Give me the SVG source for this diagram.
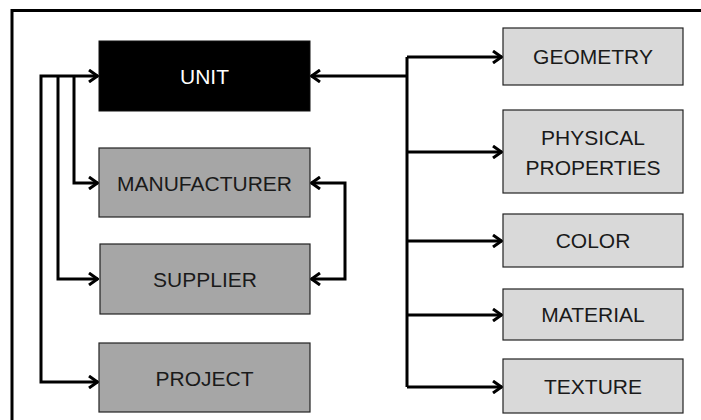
<svg xmlns="http://www.w3.org/2000/svg" width="701" height="420" viewBox="0 0 701 420">
<defs>
<style>
.frame{fill:none;stroke:#000;stroke-width:3}
.dark{fill:#000;stroke:#111;stroke-width:1}
.mid{fill:#a6a6a6;stroke:#222;stroke-width:1.2}
.light{fill:#d9d9d9;stroke:#222;stroke-width:1.2}
.t{font-family:"Liberation Sans",Arial,sans-serif;font-size:21px;text-anchor:middle;fill:#1a1a1a}
.tw{fill:#fff}
.c{fill:none;stroke:#000;stroke-width:3;stroke-linejoin:miter}
</style>
<marker id="ah" viewBox="0 0 12 14" refX="11" refY="7" markerWidth="12" markerHeight="14" markerUnits="userSpaceOnUse" orient="auto-start-reverse">
<path d="M2,1 L10.5,7 L2,13" fill="none" stroke="#000" stroke-width="3"/>
</marker>
</defs>
<rect width="701" height="420" fill="#fff"/>
<path class="frame" d="M12,422 V10.5 H703"/>
<g id="connectors">
<path class="c" d="M98,76 H41 V382 H98" marker-start="url(#ah)" marker-end="url(#ah)"/>
<path class="c" d="M58,76 V279 H98" marker-end="url(#ah)"/>
<path class="c" d="M74,76 V183 H98" marker-end="url(#ah)"/>
<path class="c" d="M311,183 H345 V279 H311" marker-start="url(#ah)" marker-end="url(#ah)"/>
<path class="c" d="M407,76 H311" marker-end="url(#ah)"/>
<path class="c" d="M407,57 V387"/>
<path class="c" d="M407,57 H502" marker-end="url(#ah)"/>
<path class="c" d="M407,152 H502" marker-end="url(#ah)"/>
<path class="c" d="M407,241 H502" marker-end="url(#ah)"/>
<path class="c" d="M407,315 H502" marker-end="url(#ah)"/>
<path class="c" d="M407,387 H502" marker-end="url(#ah)"/>
</g>
<g id="unit"><rect class="dark" x="99" y="41" width="211" height="70"/><text class="t tw" x="204.5" y="83.5">UNIT</text></g>
<g id="manufacturer"><rect class="mid" x="99" y="148" width="211" height="69"/><text class="t" x="204.5" y="190.5">MANUFACTURER</text></g>
<g id="supplier"><rect class="mid" x="100" y="244" width="210" height="70"/><text class="t" x="205" y="286.5">SUPPLIER</text></g>
<g id="project"><rect class="mid" x="99" y="343" width="211" height="69"/><text class="t" x="204.5" y="385.5">PROJECT</text></g>
<g id="geometry"><rect class="light" x="503" y="28" width="180" height="57"/><text class="t" x="593" y="64">GEOMETRY</text></g>
<g id="physical-properties"><rect class="light" x="503" y="110" width="180" height="83"/><text class="t" x="593" y="145">PHYSICAL</text><text class="t" x="593" y="175">PROPERTIES</text></g>
<g id="color"><rect class="light" x="503" y="214" width="180" height="53"/><text class="t" x="593" y="248">COLOR</text></g>
<g id="material"><rect class="light" x="503" y="289" width="180" height="51"/><text class="t" x="593" y="322">MATERIAL</text></g>
<g id="texture"><rect class="light" x="503" y="359" width="180" height="54"/><text class="t" x="593" y="394">TEXTURE</text></g>
</svg>
